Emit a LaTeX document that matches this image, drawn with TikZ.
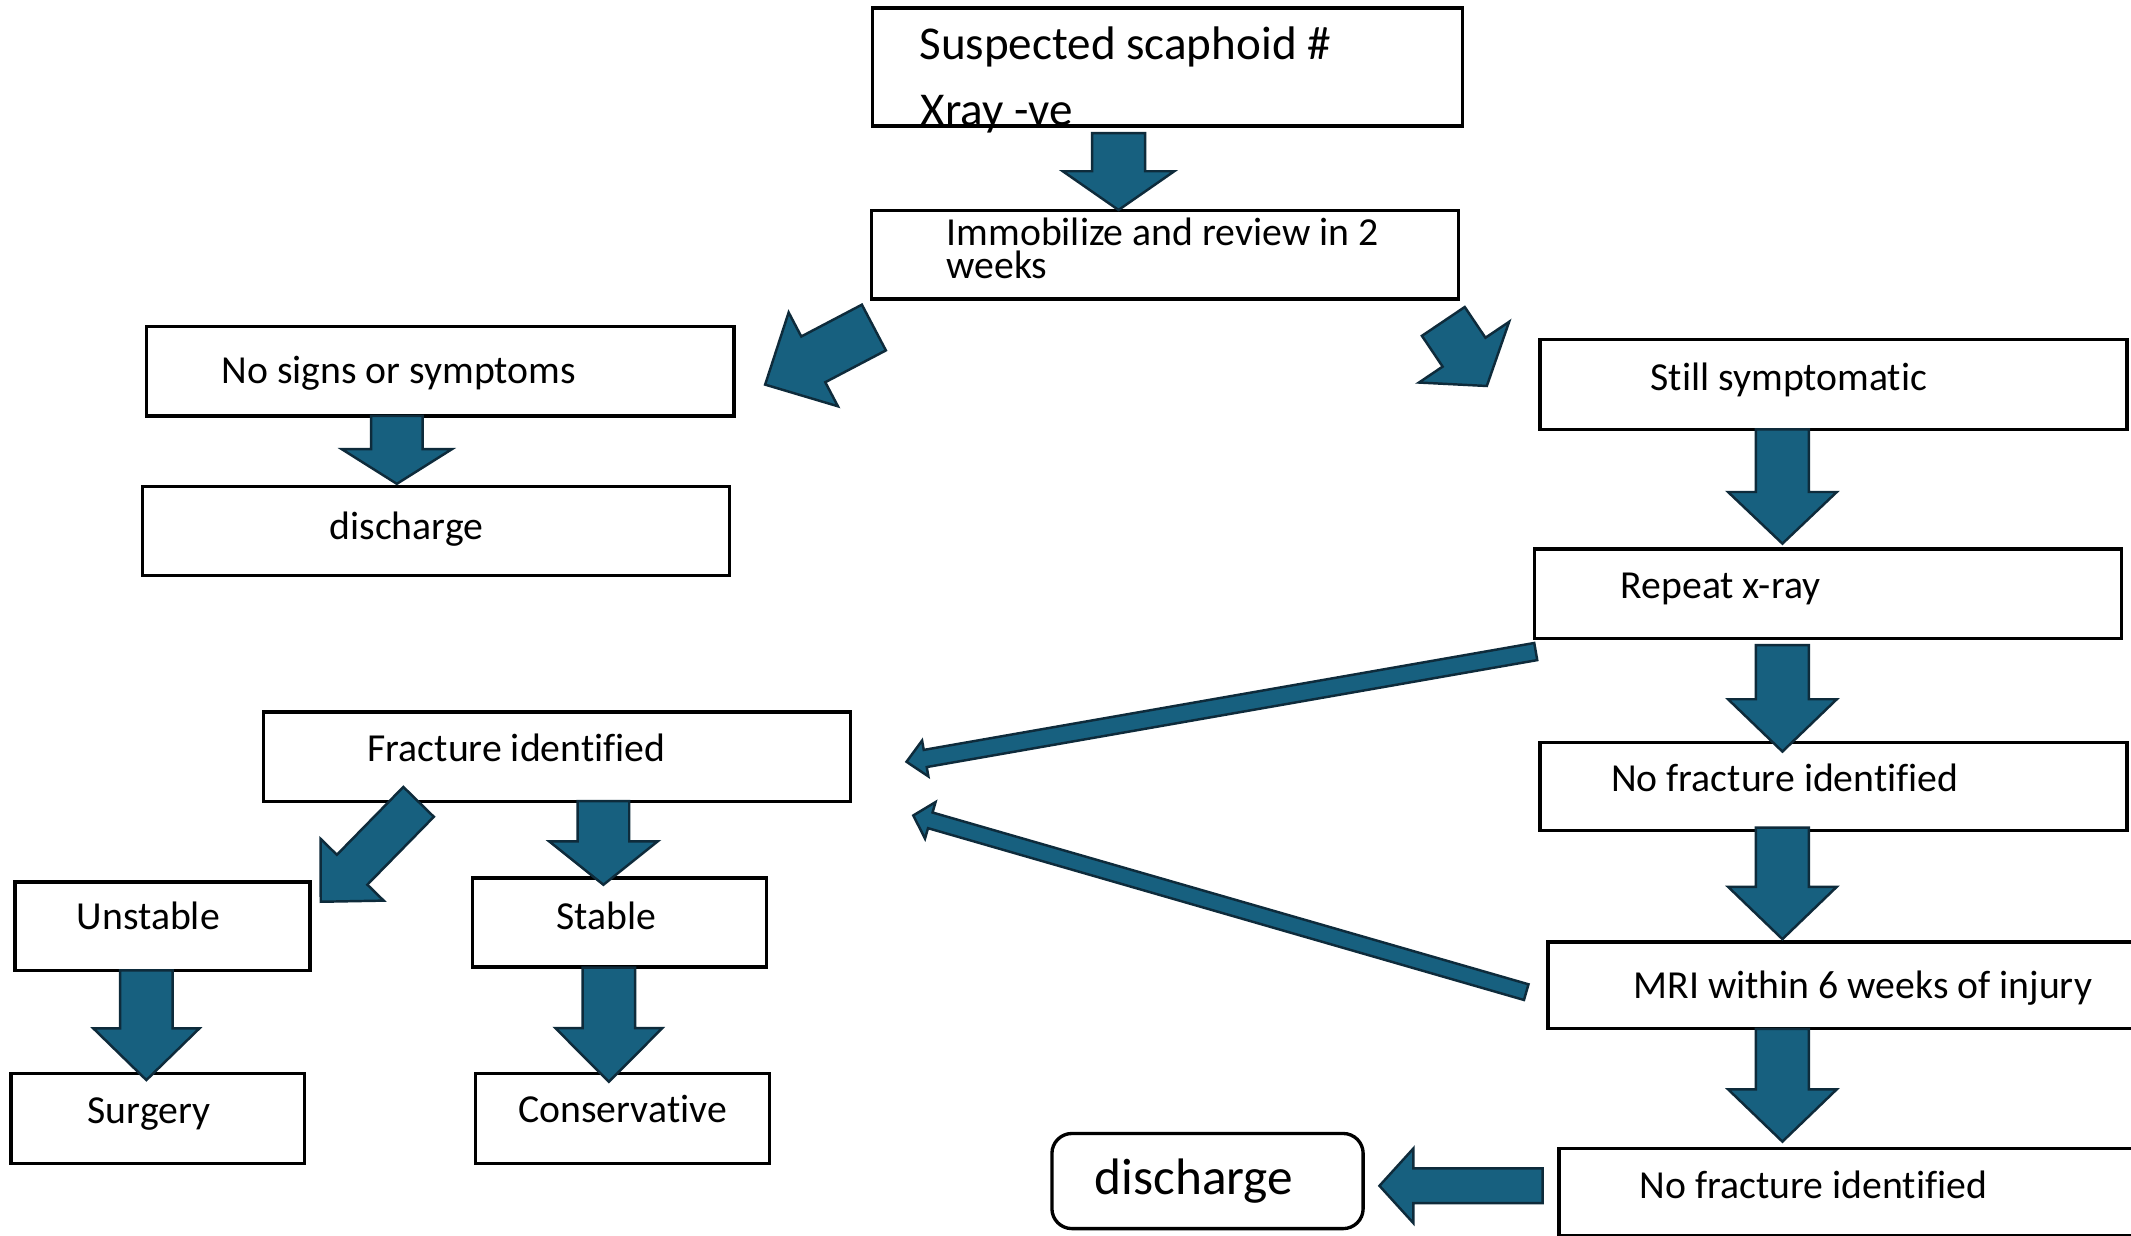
\documentclass[tikz,border=0pt]{standalone}
\usepackage{fontspec}
\setmainfont{Carlito}[Ligatures=NoCommon]
\usetikzlibrary{calc,fit}
\definecolor{arrfill}{HTML}{17607F}
\definecolor{arrline}{HTML}{0E2B3B}
\tikzset{
  box/.style={draw=black, line width=0.95pt, inner sep=0pt, fill=white},
  rbox/.style={box, rounded corners=2mm},
  lbl/.style={anchor=base west, inner sep=0pt, font=\fontsize{11.3}{13}\selectfont},
  biglbl/.style={anchor=base west, inner sep=0pt, font=\fontsize{13.4}{16}\selectfont},
  hugelbl/.style={anchor=base west, inner sep=0pt, font=\fontsize{14.6}{17}\selectfont},
  blk/.style={fill=arrfill, draw=arrline, line width=0.7pt, line join=miter},
}
% start, end, shaft half width, head half width, head length (in picture units)
\newcommand\blockarrow[5]{%
  \pgfmathsetmacro\baW{#3*0.1359}%
  \pgfmathsetmacro\baH{#4*0.1359}%
  \pgfmathsetmacro\baL{#5*0.1359}%
  \coordinate (ba-h) at ($(#2)!\baL mm!(#1)$);
  \draw[blk] ($(#1)!\baW mm!90:(#2)$) -- ($(ba-h)!\baW mm!90:(#2)$)
    -- ($(ba-h)!\baH mm!90:(#2)$) -- (#2)
    -- ($(ba-h)!\baH mm!-90:(#2)$) -- ($(ba-h)!\baW mm!-90:(#2)$)
    -- ($(#1)!\baW mm!-90:(#2)$) -- cycle;
}
\begin{document}
\begin{tikzpicture}[x=0.1359mm, y=-0.1359mm]
\fill[white] (0,0) rectangle (1568,909);
\useasboundingbox (0,0) rectangle (1568,909);

% boxes
\node[box, draw=none, fit={(643,7) (1075,91.5)}] (A) {};
\node[box, fit={(641,155) (1073,220)}] (B) {};
\node[box, fit={(108,240) (540,306)}] (C) {};
\node[box, fit={(105,358) (537,423.5)}] (D) {};
\node[box, fit={(1133,250) (1565,316)}] (E) {};
\node[box, fit={(1129,404) (1561,470)}] (F) {};
\node[box, fit={(1133,546.5) (1565,611)}] (G) {};
\node[box, fit={(1139,693) (1585,757)}] (H) {};
\node[box, fit={(1147,845) (1585,909)}] (I) {};
\node[rbox, fit={(774,834) (1003,904)}] (J) {};
\node[box, fit={(194,524) (626,589.5)}] (K) {};
\node[box, fit={(11,649) (228,714)}] (L) {};
\node[box, fit={(347.6,646) (564,711.5)}] (M) {};
\node[box, fit={(8,790) (224,856)}] (N) {};
\node[box, fit={(350,790) (566,856)}] (O) {};

% texts
\node[biglbl] (tA1) at (676,43.7) {Suspected scaphoid \#};
\node[biglbl] (tA2) at (677,92.5) {Xray -ve};
\draw[line width=0.95pt] (A.north west) rectangle (A.south east);
\node[lbl] (tB1) at (696,180.3) {Immobilize and review in 2};
\node[lbl] (tB2) at (696,204.7) {weeks};
\node[lbl] (tC) at (162.5,282) {No signs or symptoms};
\node[lbl] (tD) at (242,397) {discharge};
\node[lbl] (tE) at (1214,287) {Still symptomatic};
\node[lbl] (tF) at (1192,440) {Repeat x-ray};
\node[lbl] (tG) at (1185,582.5) {No fracture identified};
\node[lbl] (tH) at (1201.5,734.5) {MRI within 6 weeks of injury};
\node[lbl] (tI) at (1206,881.5) {No fracture identified};
\node[hugelbl] (tJ) at (805,879) {discharge};
\node[lbl] (tK) at (270,560.6) {Fracture identified};
\node[lbl] (tL) at (56,684) {Unstable};
\node[lbl] (tM) at (409,684) {Stable};
\node[lbl] (tN) at (64,826.5) {Surgery};
\node[lbl] (tO) at (381,826) {Conservative};

% arrow end points
\coordinate (ab-s) at (823,98);     \coordinate (ab-e) at (823,154.5);
\coordinate (bc-s) at (643,241);    \coordinate (bc-e) at (563,283);
\coordinate (be-s) at (1062,236.5); \coordinate (be-e) at (1094,284);
\coordinate (cd-s) at (292,306);    \coordinate (cd-e) at (292,356);
\coordinate (ef-s) at (1311.5,316); \coordinate (ef-e) at (1311.5,400);
\coordinate (fg-s) at (1311.5,474.6); \coordinate (fg-e) at (1311.5,553);
\coordinate (gh-s) at (1311.5,609); \coordinate (gh-e) at (1311.5,691);
\coordinate (hi-s) at (1311.5,757); \coordinate (hi-e) at (1311.5,840);
\coordinate (ij-s) at (1135,872.5); \coordinate (ij-e) at (1015,872.5);
\coordinate (fk-s) at (1130,479.4); \coordinate (fk-e) at (667,560.5);
\coordinate (hk-s) at (1123,730);   \coordinate (hk-e) at (672,600);
\coordinate (kl-s) at (308,590);    \coordinate (kl-e) at (236,663.5);
\coordinate (km-s) at (444,589.5);  \coordinate (km-e) at (444,651);
\coordinate (ln-s) at (107.7,714);  \coordinate (ln-e) at (107.7,794.7);
\coordinate (mo-s) at (448,712);    \coordinate (mo-e) at (448,796);

% block arrows
\blockarrow{ab-s}{ab-e}{19.5}{41}{28.5}
\blockarrow{bc-s}{bc-e}{19}{39}{40}
\blockarrow{be-s}{be-e}{19}{40}{30}
\blockarrow{cd-s}{cd-e}{19}{40.5}{25.5}
\blockarrow{ef-s}{ef-e}{19.5}{40}{38}
\blockarrow{fg-s}{fg-e}{19.5}{40}{38.5}
\blockarrow{gh-s}{gh-e}{19.5}{40}{38.5}
\blockarrow{hi-s}{hi-e}{19.5}{40}{38.5}
\blockarrow{ij-s}{ij-e}{12.8}{27.5}{25}
\blockarrow{fk-s}{fk-e}{6.4}{13.4}{14}
\blockarrow{hk-s}{hk-e}{6}{14}{13}
\blockarrow{kl-s}{kl-e}{15.7}{32.5}{33}
\blockarrow{km-s}{km-e}{19}{40}{32}
\blockarrow{ln-s}{ln-e}{19.3}{39}{38}
\blockarrow{mo-s}{mo-e}{19.3}{39.3}{39.5}
\end{tikzpicture}
\end{document}
